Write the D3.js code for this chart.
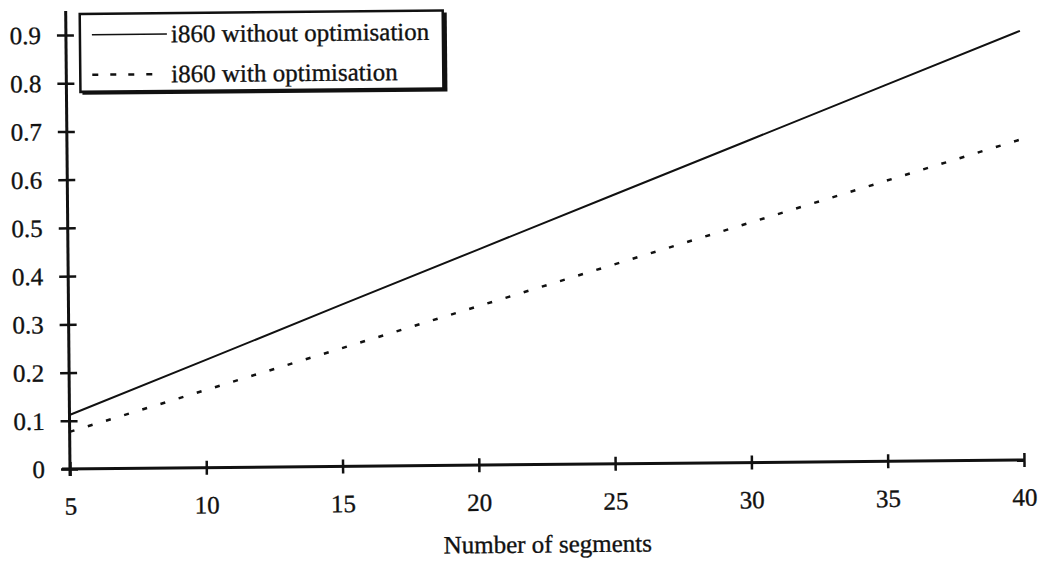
<!DOCTYPE html>
<html>
<head>
<meta charset="utf-8">
<script src="https://cdn.jsdelivr.net/npm/d3@7"></script>
<style>
  html, body { margin: 0; padding: 0; background: #fff; }
  svg { display: block; }
  text { font-family: "Liberation Serif", "DejaVu Serif", serif; fill: #111; stroke: #111; stroke-width: 0.35px; }
</style>
</head>
<body>
<svg id="chart" width="1046" height="569"></svg>
<script>
// ---- data ----
const segments = [5, 10, 15, 20, 25, 30, 35, 40];
const withoutOpt = [0.112, 0.223, 0.335, 0.446, 0.557, 0.668, 0.779, 0.89];
const withOpt    = [0.077, 0.161, 0.245, 0.329, 0.413, 0.497, 0.581, 0.665];
const seriesNames = ["i860 without optimisation", "i860 with optimisation"];
const xTicks = [5, 10, 15, 20, 25, 30, 35, 40];
const yTicks = [0, 0.1, 0.2, 0.3, 0.4, 0.5, 0.6, 0.7, 0.8, 0.9];
const xTitle = "Number of segments";

const svg = d3.select("#chart");
const ox = 70, oy = 469;           // plot origin
const root = svg.append("g")
  .attr("transform", `rotate(-0.54, ${ox}, ${oy})`);

const x = d3.scaleLinear().domain([5, 40]).range([ox, 1024]);
const y = d3.scaleLinear().domain([0, 0.9]).range([oy, 35]);

const ink = "#111";
const fs = "25px";

// y axis
const yAxis = root.append("g").attr("transform", `translate(${ox},0)`)
  .call(d3.axisLeft(y).tickValues(yTicks).tickFormat(d => d === 0 ? "0" : d3.format(".1f")(d)).tickSize(0).tickPadding(25));
yAxis.attr("font-family", null).attr("font-size", null);
yAxis.select(".domain").remove();
yAxis.selectAll(".tick line").attr("x1", -9).attr("x2", 8).attr("stroke", ink).attr("stroke-width", 2.5);
yAxis.selectAll(".tick text").style("font-size", fs).attr("fill", ink).attr("dy", "0.33em");
root.append("line").attr("x1", ox).attr("x2", ox).attr("y1", 11).attr("y2", oy + 7)
  .attr("stroke", ink).attr("stroke-width", 3);

// x axis
const xAxis = root.append("g").attr("transform", `translate(0,${oy})`)
  .call(d3.axisBottom(x).tickValues(xTicks).tickSize(0).tickPadding(28));
xAxis.attr("font-family", null).attr("font-size", null);
xAxis.select(".domain").remove();
xAxis.selectAll(".tick line").attr("y1", -7).attr("y2", 7).attr("stroke", ink).attr("stroke-width", 2.5);
xAxis.selectAll(".tick text").style("font-size", fs).attr("fill", ink);
root.append("line").attr("x1", ox - 8).attr("x2", x(40)).attr("y1", oy).attr("y2", oy)
  .attr("stroke", ink).attr("stroke-width", 3);

root.append("text").attr("x", 547).attr("y", 557).attr("text-anchor", "middle")
  .style("font-size", fs).text(xTitle);

// lines
const line = d3.line().x((d, i) => x(segments[i])).y(d => y(d));
root.append("path").datum(withoutOpt).attr("d", line)
  .attr("fill", "none").attr("stroke", ink).attr("stroke-width", 2);
root.append("path").datum(withOpt).attr("d", line)
  .attr("fill", "none").attr("stroke", ink).attr("stroke-width", 2.5)
  .attr("stroke-dasharray", "5,14");

// legend
const lg = root.append("g");
lg.append("rect").attr("x", 86).attr("y", 16).attr("width", 365).attr("height", 79).attr("fill", ink);
lg.append("rect").attr("x", 84).attr("y", 14).attr("width", 363).attr("height", 78)
  .attr("fill", "#fff").attr("stroke", ink).attr("stroke-width", 2.5);
const legendRows = [
  { name: seriesNames[0], dash: null, y: 35 },
  { name: seriesNames[1], dash: "6,12", y: 75 }
];
legendRows.forEach(r => {
  lg.append("line").attr("x1", 96).attr("x2", r.dash ? 166 : 171).attr("y1", r.y).attr("y2", r.y)
    .attr("stroke", ink).attr("stroke-width", r.dash ? 2.5 : 1.5)
    .attr("stroke-dasharray", r.dash);
  lg.append("text").attr("x", 175).attr("y", r.y).attr("dy", "0.33em")
    .style("font-size", fs).text(r.name);
});
</script>
</body>
</html>
